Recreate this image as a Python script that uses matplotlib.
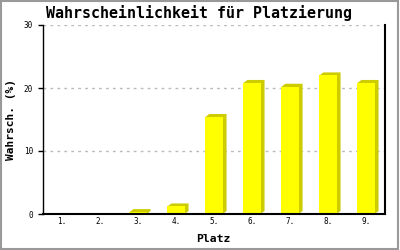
import matplotlib
matplotlib.use("Agg")
import matplotlib.pyplot as plt
from matplotlib.patches import Polygon, Rectangle

categories = ["1.", "2.", "3.", "4.", "5.", "6.", "7.", "8.", "9."]
values = [0, 0, 0.3, 1.2, 15.4, 20.8, 20.2, 22.0, 20.8]
yticks = [0, 10, 20, 30]

FRONT = "#ffff00"
SIDE = "#cccc00"
MONO = "DejaVu Sans Mono"

fig = plt.figure(figsize=(4, 2.5), dpi=100)
fig.patch.set_facecolor("white")
fig.patches.append(Rectangle((0.003, 0.006), 0.992, 0.99, transform=fig.transFigure,
                             fill=False, edgecolor="#999999", linewidth=1.5))

ax = fig.add_axes([0.1075, 0.144, 0.855, 0.756])
ax.set_xlim(-0.5, len(categories) - 0.5)
ax.set_ylim(0, 30)

# pixel -> data conversions for 3D depth
ax_w_px = 0.855 * 400
ax_h_px = 0.756 * 250
dx = 4 * (len(categories)) / ax_w_px
dy = 3 * 30 / ax_h_px
w = 0.45

for i, v in enumerate(values):
    if v <= 0:
        continue
    x0, x1 = i - w / 2, i + w / 2
    pts = [(x0, 0), (x0, v), (x0 + dx, v + dy), (x1 + dx, v + dy), (x1 + dx, dy), (x1, 0)]
    ax.add_patch(Polygon(pts, closed=True, facecolor=SIDE, edgecolor="none", zorder=3))
ax.bar(range(len(categories)), values, width=w, color=FRONT, edgecolor="none", zorder=4)

for t in yticks[1:]:
    ax.axhline(t, color="#bbbbbb", linewidth=1, linestyle=(0, (2, 3)), zorder=1)

ax.set_xticks(range(len(categories)))
ax.set_xticklabels(categories, fontfamily=MONO, fontsize=5.5)
ax.set_yticks(yticks)
ax.set_yticklabels([str(t) for t in yticks], fontfamily=MONO, fontsize=5.5)
ax.tick_params(axis="x", length=0, pad=2)
ax.tick_params(axis="y", length=3.6, width=1, pad=3.6, direction="out")

for s in ["left", "bottom", "right"]:
    ax.spines[s].set_color("black")
ax.spines["left"].set_linewidth(1)
ax.spines["bottom"].set_linewidth(1.5)
ax.spines["right"].set_linewidth(1.5)
ax.spines["top"].set_visible(False)
for s in ax.spines.values():
    s.set_zorder(5)

fig.text(0.0275, 0.52, "Wahrsch. (%)", fontfamily=MONO, fontweight="bold", fontsize=8,
         rotation=90, ha="center", va="center")
fig.text(0.533, 0.042, "Platz", fontfamily=MONO, fontweight="bold", fontsize=8.2,
         ha="center", va="center")
fig.text(0.4985, 0.948, "Wahrscheinlichkeit für Platzierung", fontfamily=MONO,
         fontweight="bold", fontsize=10.8, ha="center", va="center")

fig.savefig("out.png", dpi=100)
